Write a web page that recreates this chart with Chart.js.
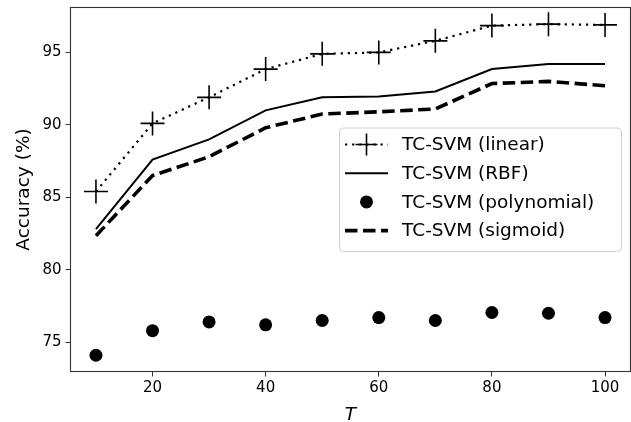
<!DOCTYPE html>
<html>
<head>
<meta charset="utf-8">
<script src="https://cdn.jsdelivr.net/npm/chart.js@4.4.0/dist/chart.umd.min.js"></script>
<style>
  html, body { margin: 0; padding: 0; background: #fff; }
  #wrap { width: 631px; height: 422px; }
</style>
</head>
<body>
<div id="wrap"><canvas id="myChart" width="631" height="422"></canvas></div>
<script>
const T = [10, 20, 30, 40, 50, 60, 70, 80, 90, 100];
const linearAcc = [85.4, 90.1, 91.9, 93.85, 94.9, 95.0, 95.8, 96.85, 96.95, 96.9];
const rbfAcc = [82.8, 87.6, 89.0, 91.0, 91.9, 91.95, 92.3, 93.85, 94.2, 94.2];
const polyAcc = [74.1, 75.8, 76.4, 76.2, 76.5, 76.7, 76.5, 77.05, 77.0, 76.7];
const sigmoidAcc = [82.35, 86.5, 87.8, 89.8, 90.75, 90.9, 91.1, 92.85, 93.0, 92.7];
const xTicks = [20, 40, 60, 80, 100];
const yTicks = [75, 80, 85, 90, 95];
const labels = ['TC-SVM (linear)', 'TC-SVM (RBF)', 'TC-SVM (polynomial)', 'TC-SVM (sigmoid)'];

const FONT = 'DejaVu Sans';
const toPoints = ys => ys.map((y, i) => ({ x: T[i], y }));

// spines drawn like matplotlib, around the plot area
const spines = {
    id: 'spines',
    afterDraw(chart) {
        const { ctx, chartArea: a } = chart;
        ctx.save();
        ctx.strokeStyle = '#333';
        ctx.lineWidth = 1.1;
        ctx.strokeRect(a.left, a.top, a.right - a.left, a.bottom - a.top);
        ctx.restore();
    }
};

// legend box inside the plot, upper right-ish
const innerLegend = {
    id: 'innerLegend',
    afterDraw(chart) {
        const ctx = chart.ctx;
        const bx = 339, by = 127.5, bw = 282, bh = 123.5;
        ctx.save();
        ctx.fillStyle = 'rgba(255,255,255,0.8)';
        ctx.strokeStyle = '#d0d0d0';
        ctx.lineWidth = 1;
        ctx.beginPath();
        ctx.roundRect(bx + 0.5, by + 0.5, bw, bh, 4);
        ctx.fill();
        ctx.stroke();

        const rows = [144.5, 173.2, 201.9, 230.6];
        const x0 = 345, x1 = 388, xm = 366.5;
        chart.data.datasets.forEach((ds, i) => {
            const y = rows[i];
            ctx.strokeStyle = '#000';
            ctx.fillStyle = '#000';
            if (ds.showLine !== false) {
                ctx.lineWidth = ds.borderWidth;
                ctx.setLineDash(ds.borderDash || []);
                ctx.beginPath();
                ctx.moveTo(x0, y);
                ctx.lineTo(x1, y);
                ctx.stroke();
                ctx.setLineDash([]);
            }
            if (ds.pointRadius > 0) {
                if (ds.pointStyle === 'cross') {
                    ctx.lineWidth = ds.pointBorderWidth;
                    ctx.beginPath();
                    ctx.moveTo(xm - 11, y); ctx.lineTo(xm + 11, y);
                    ctx.moveTo(xm, y - 11); ctx.lineTo(xm, y + 11);
                    ctx.stroke();
                } else {
                    ctx.beginPath();
                    ctx.arc(xm, y, ds.pointRadius, 0, Math.PI * 2);
                    ctx.fill();
                }
            }
            ctx.font = '18.5px "' + FONT + '"';
            ctx.textBaseline = 'middle';
            ctx.textAlign = 'left';
            ctx.fillText(ds.label, 402, y + 1);
        });
        ctx.restore();
    }
};

new Chart(document.getElementById('myChart'), {
    type: 'scatter',
    data: {
        datasets: [
            {
                label: labels[0],
                data: toPoints(linearAcc),
                showLine: true,
                borderColor: '#000',
                backgroundColor: '#000',
                borderWidth: 2.2,
                borderDash: [2.2, 4.9],
                pointStyle: 'cross',
                pointRadius: 12,
                pointBorderWidth: 1.6,
                pointBorderColor: '#000'
            },
            {
                label: labels[1],
                data: toPoints(rbfAcc),
                showLine: true,
                borderColor: '#000',
                borderWidth: 2,
                pointRadius: 0
            },
            {
                label: labels[2],
                data: toPoints(polyAcc),
                showLine: false,
                backgroundColor: '#000',
                borderColor: '#000',
                pointStyle: 'circle',
                pointRadius: 6.5,
                pointBorderWidth: 0
            },
            {
                label: labels[3],
                data: toPoints(sigmoidAcc),
                showLine: true,
                borderColor: '#000',
                borderWidth: 3.6,
                borderDash: [12.5, 5.5],
                pointRadius: 0
            }
        ]
    },
    options: {
        responsive: false,
        animation: false,
        layout: { autoPadding: false, padding: { top: 7.5, right: 0.5, bottom: 0, left: 0 } },
        plugins: {
            legend: { display: false },
            tooltip: { enabled: false }
        },
        scales: {
            x: {
                type: 'linear',
                min: 5.5,
                max: 104.5,
                afterBuildTicks: scale => { scale.ticks = xTicks.map(v => ({ value: v })); },
                afterFit: scale => {
                    scale.height = 50.5;
                    scale.paddingLeft = 0;
                    scale.paddingRight = 0;
                },
                border: { display: false },
                grid: { drawOnChartArea: false, drawTicks: true, tickLength: 5, color: '#333', lineWidth: 1 },
                ticks: { color: '#000', padding: 3, font: { family: FONT, size: 15 } },
                title: {
                    display: true,
                    text: 'T',
                    color: '#000',
                    padding: { top: 0, bottom: -4 },
                    font: { family: FONT, size: 18.5, style: 'italic' }
                }
            },
            y: {
                type: 'linear',
                min: 72.98,
                max: 98.1,
                afterBuildTicks: scale => { scale.ticks = yTicks.map(v => ({ value: v })); },
                afterFit: scale => {
                    scale.width = 70.5;
                    scale.paddingTop = 0;
                    scale.paddingBottom = 0;
                },
                border: { display: false },
                grid: { drawOnChartArea: false, drawTicks: true, tickLength: 5, color: '#333', lineWidth: 1 },
                ticks: { color: '#000', padding: 4, font: { family: FONT, size: 15 } },
                title: {
                    display: true,
                    text: 'Accuracy (%)',
                    color: '#000',
                    padding: { top: 13, bottom: 0 },
                    font: { family: FONT, size: 18.5 }
                }
            }
        }
    },
    plugins: [spines, innerLegend]
});
</script>
</body>
</html>
